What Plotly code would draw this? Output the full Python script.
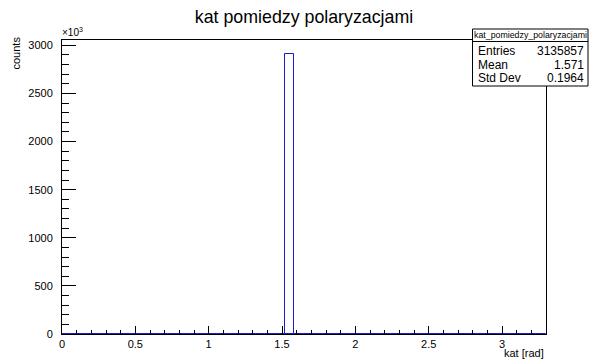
import plotly.graph_objects as go

# Histogram: 50 bins from 0 to 3.3 rad, counts in thousands (x10^3)
bin_lo = 0.0
bin_hi = 3.3
n_bins = 50
counts_k = [4.6, 4.6, 4.6, 4.6, 4.6, 4.6, 4.6, 4.6, 4.6, 4.6,
            4.6, 4.6, 4.6, 4.6, 4.6, 4.6, 4.6, 4.6, 4.6, 4.6,
            4.6, 4.6, 4.6, 2910.0, 4.6, 4.6, 4.6, 4.6, 4.6, 4.6,
            4.6, 4.6, 4.6, 4.6, 4.6, 4.6, 4.6, 4.6, 4.6, 4.6,
            4.6, 4.6, 4.6, 4.6, 4.6, 4.6, 4.6, 4.6, 4.6, 4.6]
x_ticks = [0, 0.5, 1, 1.5, 2, 2.5, 3]
x_tick_labels = ["0", "0.5", "1", "1.5", "2", "2.5", "3"]
y_ticks = [0, 500, 1000, 1500, 2000, 2500, 3000]
y_tick_labels = ["0", "500", "1000", "1500", "2000", "2500", "3000"]
stats_names = ["Entries", "Mean", "Std Dev"]
stats_values = ["3135857", "1.571", "0.1964"]
y_max = 3055

width = (bin_hi - bin_lo) / n_bins
centers = [bin_lo + (i + 0.5) * width for i in range(n_bins)]

FONT = "Liberation Sans, Arial, Helvetica, sans-serif"
BLUE = "#1a1ad0"

fig = go.Figure()
fig.add_trace(go.Bar(
    x=centers, y=counts_k, width=[width] * n_bins,
    marker=dict(color="rgba(0,0,0,0)", line=dict(color=BLUE, width=1)),
    showlegend=False, hoverinfo="x+y",
))

# plot area in pixels: x 62..546, y 40..334
L, R, T, B = 62, 546, 40, 334
W, H = 590, 361
pw, ph = R - L, B - T

def px(x):
    return (x - L) / pw

def py(y):
    return (B - y) / ph

fig.update_layout(
    width=W, height=H,
    margin=dict(l=L, r=W - R, t=T, b=H - B, pad=0, autoexpand=False),
    paper_bgcolor="white", plot_bgcolor="white",
    font=dict(family=FONT, size=11, color="black"),
    bargap=0,
    title=dict(text="kat pomiedzy polaryzacjami", x=0.5, xref="paper",
               xanchor="center", y=1 - 17 / H, yanchor="middle",
               font=dict(size=17.8, family=FONT, color="black")),
    xaxis=dict(range=[bin_lo, bin_hi], tickvals=x_ticks, ticktext=x_tick_labels,
               ticks="inside", ticklen=8, tickwidth=1, tickcolor="black",
               showline=True, linecolor="black", linewidth=1, mirror=True,
               showgrid=False, zeroline=False, automargin=False,
               tickfont=dict(size=11, family=FONT),
               minor=dict(dtick=0.1, tick0=0, ticks="inside", ticklen=4,
                          tickcolor="black", showgrid=False)),
    yaxis=dict(range=[0, y_max], tickvals=y_ticks, ticktext=y_tick_labels,
               ticks="inside", ticklen=14, tickwidth=1, tickcolor="black",
               showline=True, linecolor="black", linewidth=1, mirror=True,
               showgrid=False, zeroline=False, automargin=False,
               tickfont=dict(size=11, family=FONT),
               ticklabelstandoff=6,
               minor=dict(dtick=100, tick0=0, ticks="inside", ticklen=7,
                          tickcolor="black", showgrid=False)),
)

# axis titles
fig.add_annotation(text="counts", textangle=-90, xref="paper", yref="paper",
                   x=px(15), y=py(35), xanchor="center", yanchor="top",
                   showarrow=False, font=dict(size=11, family=FONT))
fig.add_annotation(text="kat [rad]", xref="paper", yref="paper",
                   x=px(546), y=py(345), xanchor="right", yanchor="top",
                   showarrow=False, font=dict(size=11, family=FONT))
# exponent label
fig.add_annotation(text="×10<sup>3</sup>", xref="paper", yref="paper",
                   x=px(60), y=py(40), xanchor="left", yanchor="bottom",
                   showarrow=False, font=dict(size=10, family=FONT))

# stats box
bx0, bx1, by0, by1, bsep = 472.5, 588, 29, 86, 41.5
fig.add_shape(type="rect", xref="paper", yref="paper",
              x0=px(bx0), x1=px(bx1), y0=py(by1), y1=py(by0),
              line=dict(color="black", width=1), fillcolor="white", layer="above")
fig.add_shape(type="line", xref="paper", yref="paper",
              x0=px(bx0), x1=px(bx1), y0=py(bsep), y1=py(bsep),
              line=dict(color="black", width=1), layer="above")
fig.add_annotation(text="kat_pomiedzy_polaryzacjami", xref="paper", yref="paper",
                   x=px((bx0 + bx1) / 2), y=py(35.5), xanchor="center", yanchor="middle",
                   showarrow=False, font=dict(size=8.8, family=FONT))
row_y = [51, 64.5, 78]
for name, val, yy in zip(stats_names, stats_values, row_y):
    fig.add_annotation(text=name, xref="paper", yref="paper",
                       x=px(476), y=py(yy), xanchor="left", yanchor="middle",
                       showarrow=False, font=dict(size=12, family=FONT))
    fig.add_annotation(text=val, xref="paper", yref="paper",
                       x=px(586), y=py(yy), xanchor="right", yanchor="middle",
                       showarrow=False, font=dict(size=12, family=FONT))

fig.write_html("out.html", config={"displayModeBar": False},
               post_script="document.body.style.margin='0';document.body.style.overflow='hidden';")
